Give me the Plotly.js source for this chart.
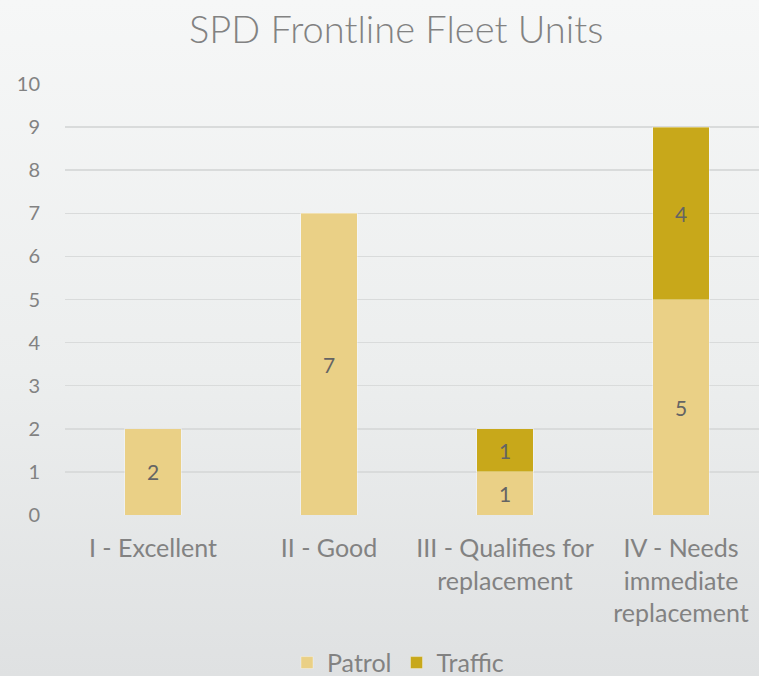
<!DOCTYPE html>
<html>
<head>
<meta charset="utf-8">
<script src="https://cdn.plot.ly/plotly-3.0.1.min.js"></script>
<style>
  html, body { margin: 0; padding: 0; }
  body { width: 759px; height: 676px; background: linear-gradient(to bottom, #f6f7f7 0%, #eceeee 55%, #dfe1e2 100%); }
  #chart { width: 759px; height: 676px; }
</style>
</head>
<body>
<div id="chart"></div>
<script>
const categories = ["I - Excellent", "II - Good", "III - Qualifies for<br>replacement", "IV - Needs<br>immediate<br>replacement"];
const patrol = [2, 7, 1, 5];
const traffic = [null, null, 1, 4];
const yTicks = [0, 1, 2, 3, 4, 5, 6, 7, 8, 9, 10];

const FONT = "Lato, 'Open Sans', sans-serif";
const GREY = "#828282";

const traces = [
  {
    type: "bar", name: "Patrol", x: categories, y: patrol,
    marker: { color: "#EAD086", line: { color: "rgba(255,255,255,0.35)", width: 1 } },
    text: patrol.map(v => v == null ? "" : String(v)),
    textposition: "inside", insidetextanchor: "middle",
    textfont: { family: FONT, size: 21, color: "#646464", weight: 400 },
    hoverinfo: "x+y+name"
  },
  {
    type: "bar", name: "Traffic", x: categories, y: traffic,
    marker: { color: "#C8A81A", line: { color: "rgba(255,255,255,0.35)", width: 1 } },
    text: traffic.map(v => v == null ? "" : String(v)),
    textposition: "inside", insidetextanchor: "middle",
    textfont: { family: FONT, size: 21, color: "#646464", weight: 400 },
    hoverinfo: "x+y+name"
  }
];

const layout = {
  width: 759, height: 676,
  paper_bgcolor: "rgba(0,0,0,0)", plot_bgcolor: "rgba(0,0,0,0)",
  barmode: "stack", bargap: 0.68,
  margin: { l: 65, r: 0, t: 84, b: 161, autoexpand: false },
  font: { family: FONT, color: GREY },
  title: { text: "SPD Frontline Fleet Units", font: { family: FONT, size: 38, color: GREY, weight: 300 },
           x: 0.522, xanchor: "center", y: 1 - 30/676, yanchor: "middle", yref: "container" },
  xaxis: {
    type: "category", range: [-0.5, 3.443], automargin: false,
    showgrid: false, zeroline: false, showline: false, ticks: "",
    tickfont: { family: FONT, size: 25, color: GREY, weight: 400 },
    ticklabelstandoff: 16
  },
  yaxis: {
    range: [0, 10], tickvals: yTicks, ticktext: yTicks.map(String), automargin: false,
    showgrid: true, gridcolor: "#d9dbdb", gridwidth: 1.5,
    zeroline: false, showline: false, ticks: "",
    tickfont: { family: FONT, size: 20, color: GREY, weight: 400 },
    ticklabelstandoff: 24
  },
  showlegend: true,
  legend: { orientation: "h", x: (398-65)/694, xanchor: "center", y: -0.343, yanchor: "middle",
            font: { family: FONT, size: 25, color: GREY, weight: 400 }, itemwidth: 30, traceorder: "normal",
            bgcolor: "rgba(0,0,0,0)" }
};

Plotly.newPlot("chart", traces, layout, { displayModeBar: false, staticPlot: true });
</script>
</body>
</html>
